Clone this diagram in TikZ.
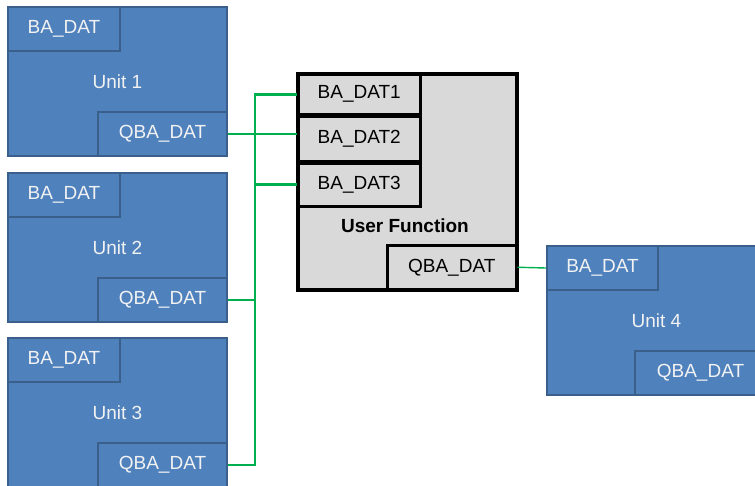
\documentclass[tikz,border=0pt]{standalone}
\usepackage{fontspec}
\setmainfont{Liberation Sans}
\definecolor{unitblue}{HTML}{4F81BD}
\definecolor{unitedge}{HTML}{3A5F8B}
\definecolor{fungray}{HTML}{D9D9D9}
\definecolor{wiregreen}{HTML}{00B050}
\definecolor{unittext}{HTML}{F2F2F2}
\tikzset{
  unitbox/.style={draw=unitedge, line width=2pt, fill=unitblue, inner sep=0pt,
    minimum width=219pt, minimum height=149pt, text=unittext, font=\fontsize{19}{21}\selectfont},
  unitport/.style={draw=unitedge, line width=2pt, fill=unitblue, inner sep=0pt,
    minimum height=44pt, text=unittext, font=\fontsize{19}{21}\selectfont},
  funbox/.style={draw=black, line width=2.5pt, fill=fungray, inner sep=0pt},
  funport/.style={draw=black, line width=2.5pt, fill=fungray, inner sep=0pt,
    text=black, font=\fontsize{19}{21}\selectfont},
  wire/.style={draw=wiregreen, line width=2.8pt},
  thinwire/.style={draw=wiregreen, line width=1.4pt},
}
\begin{document}
\begin{tikzpicture}[x=1pt, y=-1pt]
\useasboundingbox (0,0) rectangle (755,485);
\clip (0,0) rectangle (755,485);

% Units 1 to 3 on the left
\foreach \n/\top in {1/6, 2/172, 3/337} {
  \node[unitbox, anchor=north west] (u\n) at (7,\top) {Unit \n};
  \node[unitport, anchor=north west, minimum width=112pt] (u\n b) at (u\n.north west) {BA\_DAT};
  \node[unitport, anchor=south east, minimum width=129pt] (u\n q) at (u\n.south east) {QBA\_DAT};
}

% Unit 4 on the right
\node[unitbox, anchor=north west] (u4) at (546,245) {Unit 4};
\node[unitport, anchor=north west, minimum width=111pt] (u4b) at (u4.north west) {BA\_DAT};
\node[unitport, anchor=south east, minimum width=131pt] (u4q) at (u4.south east) {QBA\_DAT};

% User function block
\node[funbox, anchor=north west, minimum width=218pt, minimum height=215pt] (fn) at (297,73) {};
\node[funport, anchor=north west, minimum width=122pt, minimum height=40pt] (f1) at (297,73) {BA\_DAT1};
\node[funport, anchor=north west, minimum width=122pt, minimum height=44pt] (f2) at (f1.south west) {BA\_DAT2};
\node[funport, anchor=north west, minimum width=122pt, minimum height=43pt] (f3) at (f2.south west) {BA\_DAT3};
\node[funport, anchor=south east, minimum width=129pt, minimum height=44pt] (fq) at (fn.south east) {QBA\_DAT};
\node[font=\fontsize{19}{21}\selectfont\bfseries, text=black] (fl) at (405,226) {User Function};
% redraw outer frame on top so the edges stay crisp
\draw[black, line width=2.5pt] (fn.north west) rectangle (fn.south east);

% Connections
\coordinate (tk) at (255,0);
\draw[wire] (f1.west) -| (tk |- u3q.east) -- (u3q.east);
\draw[wire] (f3.west) -- (f3.west -| tk);
\draw[wire] (u2q.east) -- (u2q.east -| tk);
\draw[wire] (u1q.east) -- (u1q.east -| f2.west);
\draw[thinwire] (fq.east) -- (u4b.west);
\end{tikzpicture}
\end{document}
